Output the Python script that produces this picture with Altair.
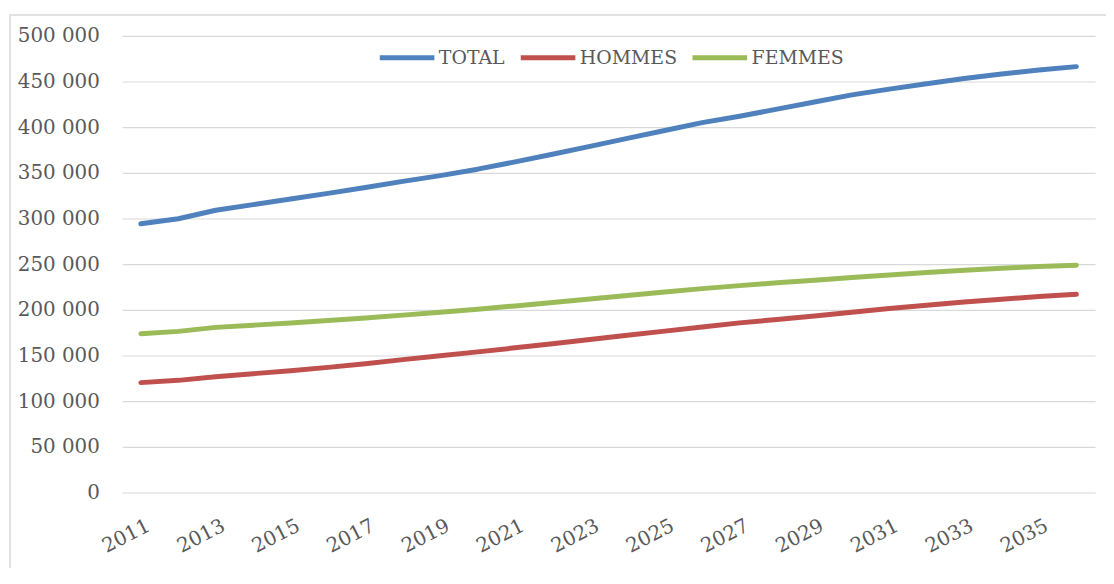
import altair as alt
import pandas as pd

years = list(range(2011, 2037))
total = [294200, 299700, 309000, 315200, 321400, 327500, 334000, 340600, 347000,
         354000, 362000, 370300, 379000, 387700, 396400, 405000, 412000, 419700,
         427500, 435400, 441700, 447600, 453200, 458200, 462500, 466300]
hommes = [120300, 122800, 126800, 130100, 133300, 137000, 141000, 145500, 149700,
          154000, 158400, 162900, 167500, 172100, 176700, 181200, 185700, 189500,
          193300, 197300, 201400, 205000, 208500, 211700, 214500, 217000]
femmes = [173900, 176400, 180800, 183200, 185700, 188300, 191100, 194200, 197300,
          200700, 204300, 208000, 211900, 215800, 219600, 223200, 226500, 229600,
          232500, 235400, 238200, 240900, 243300, 245500, 247400, 248900]
series_names = ["TOTAL", "HOMMES", "FEMMES"]
series_colors = ["#4F81BD", "#C0504D", "#9BBB59"]
x_tick_years = list(range(2011, 2036, 2))
y_ticks = list(range(0, 500001, 50000))

rows = []
for name, vals in zip(series_names, [total, hommes, femmes]):
    for yr, v in zip(years, vals):
        rows.append({"annee": yr, "valeur": v, "serie": name})
df = pd.DataFrame(rows)

FONT = "DejaVu Serif"
TXT = "#595959"

border = alt.Chart(pd.DataFrame({"a": [0]})).mark_rect(
    fill="white", fillOpacity=0, stroke="#D9D9D9", strokeWidth=1.5
).encode(
    x=alt.value(-113), x2=alt.value(1200),
    y=alt.value(-21), y2=alt.value(800)
)

lines = alt.Chart(df).mark_line(strokeWidth=5, strokeCap="round", strokeJoin="round").encode(
    x=alt.X("annee:Q",
            scale=alt.Scale(domain=[2010.5, 2036.5], nice=False, zero=False),
            axis=alt.Axis(values=x_tick_years, format="d", title=None, grid=False,
                          ticks=False, domain=False, labelAngle=-27,
                          labelAlign="right", labelBaseline="top",
                          labelPadding=23, labelOffset=3, labelFont=FONT, labelFontSize=20,
                          labelColor=TXT, labelOverlap=False)),
    y=alt.Y("valeur:Q",
            scale=alt.Scale(domain=[0, 500000], nice=False),
            axis=alt.Axis(values=y_ticks, title=None, grid=True, gridColor="#D9D9D9",
                          gridWidth=1.2, ticks=False, domain=False, labelPadding=23,
                          labelFont=FONT, labelFontSize=20, labelColor=TXT,
                          labelExpr="datum.value == 0 ? '0' : floor(datum.value / 1000) + ' 000'")),
    color=alt.Color("serie:N",
                    scale=alt.Scale(domain=series_names, range=series_colors),
                    sort=series_names,
                    legend=alt.Legend(title=None, orient="none", legendX=257, legendY=-8,
                                      direction="horizontal", symbolType="stroke",
                                      symbolSize=3025, symbolStrokeWidth=5,
                                      labelFont=FONT, labelFontSize=19, labelColor=TXT,
                                      labelOffset=2, columnPadding=5, padding=0)),
    order=alt.Order("annee:Q")
)

chart = alt.layer(border, lines).properties(
    width=980, height=460,
    autosize=alt.AutoSizeParams(type="none"),
    padding={"left": 115, "top": 26, "right": 11, "bottom": 74},
    background="white"
).configure_view(stroke=None)

chart.save("out.html", embed_options={"renderer": "svg", "actions": False})
